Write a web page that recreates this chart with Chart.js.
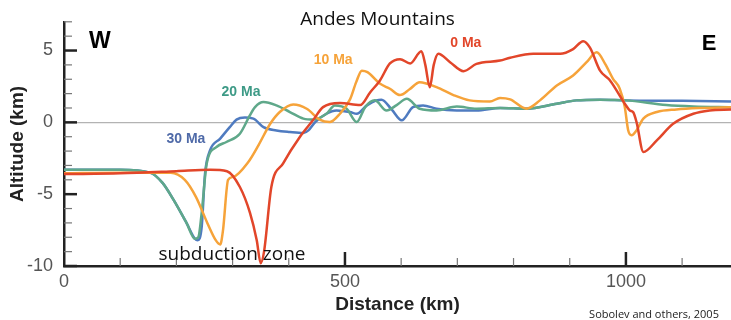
<!DOCTYPE html>
<html lang="en">
<head>
<meta charset="UTF-8">
<script src="https://cdn.jsdelivr.net/npm/chart.js"></script>
<title>Andes Mountains</title>
<style>
  body { margin: 0; background: #fff; }
</style>
</head>
<body>
<canvas id="grafico" width="731" height="320"></canvas>
<script>
// perfiles de altitud (km) contra distancia (km)
const dist30 = [0, 100, 153, 175, 195, 218, 233, 238, 245, 251, 260, 278, 295, 307, 322, 337, 355, 378, 402, 426, 435, 447, 467, 485, 509, 521, 539, 556, 565, 583, 601, 621, 639, 663, 699, 734, 776, 823, 877, 912, 954, 1000, 1100, 1187];
const alt30 = [-3.3, -3.3, -3.5, -4.2, -5.4, -7.0, -8.1, -8.2, -7.3, -3.56, -1.94, -1.13, -0.33, 0.19, 0.33, 0.26, -0.33, -0.56, -0.67, -0.74, -0.56, 0.02, 0.6, 0.83, 0.72, 0.6, 1.18, 1.53, 1.58, 0.9, 0.14, 1.06, 1.18, 0.95, 0.83, 0.83, 1.0, 0.95, 1.3, 1.53, 1.58, 1.53, 1.5, 1.45];

const dist20 = [0, 100, 153, 175, 195, 218, 233, 239, 245, 254, 272, 289, 313, 331, 340, 355, 378, 402, 426, 444, 467, 482, 503, 521, 536, 553, 574, 592, 610, 633, 663, 699, 734, 776, 823, 877, 912, 954, 1000, 1072, 1120, 1187];
const alt20 = [-3.3, -3.3, -3.5, -4.2, -5.4, -7.0, -8.1, -8.0, -6.3, -2.87, -1.7, -1.37, -0.79, 0.5, 1.06, 1.41, 1.18, 0.72, 0.26, 0.19, 0.6, 1.18, 0.95, 0.02, 1.06, 1.53, 0.83, 1.2, 1.64, 0.95, 0.83, 1.1, 0.95, 1.0, 0.95, 1.3, 1.53, 1.58, 1.53, 1.2, 1.1, 1.05];

const dist10 = [0, 100, 190, 215, 235, 255, 270, 278, 283, 292, 301, 328, 346, 367, 384, 408, 432, 455, 473, 491, 509, 520, 530, 540, 562, 580, 598, 615, 633, 663, 693, 722, 758, 776, 794, 823, 847, 877, 906, 930, 948, 963, 977, 989, 998, 1004, 1010, 1019, 1031, 1055, 1090, 1132, 1187];
const alt10 = [-3.55, -3.5, -3.5, -4.0, -5.2, -7.0, -8.2, -8.5, -7.5, -4.0, -3.8, -2.76, -1.6, -0.1, 0.72, 1.25, 0.95, 0.19, 0.02, 0.6, 1.6, 2.8, 3.6, 3.5, 2.7, 2.34, 1.9, 2.3, 2.8, 2.45, 1.9, 1.53, 1.45, 1.7, 1.6, 0.95, 1.53, 2.57, 3.26, 4.19, 4.88, 4.07, 3.03, 2.34, 1.06, -0.55, -0.9, -0.55, 0.26, 0.72, 0.9, 1.0, 1.06];

const dist0 = [0, 100, 200, 260, 290, 313, 331, 343, 350, 356, 369, 390, 420, 443, 461, 491, 527, 545, 562, 580, 598, 616, 636, 643, 651, 658, 666, 687, 711, 734, 776, 794, 835, 883, 906, 924, 936, 954, 972, 998, 1007, 1013, 1019, 1031, 1055, 1084, 1120, 1149, 1187];
const alt0 = [-3.6, -3.55, -3.4, -3.3, -3.4, -4.5, -6.3, -8.2, -9.8, -9.0, -4.5, -2.85, -1.0, 0.14, 1.06, 1.34, 1.2, 2.1, 2.9, 4.1, 4.4, 4.1, 4.95, 4.0, 2.45, 4.0, 4.77, 4.19, 3.56, 4.07, 4.3, 4.5, 4.77, 4.77, 5.1, 5.65, 5.2, 3.6, 2.9, 1.3, 0.83, 0.7, 0, -2.06, -1.25, -0.1, 0.6, 0.83, 0.9];

const edades = ['30 Ma', '20 Ma', '10 Ma', '0 Ma'];
const colores = ['#4f7bc0', '#5fa88a', '#f6a33a', '#e2462a'];
const xTicks = [0, 500, 1000];
const yTicks = [-10, -5, 0, 5];

const toPoints = (xs, ys) => xs.map((v, i) => ({ x: v, y: ys[i] }));
const series = [toPoints(dist30, alt30), toPoints(dist20, alt20), toPoints(dist10, alt10), toPoints(dist0, alt0)];

// textos sobre el grafico (posicion en km / km de altitud)
const notas = [
  { t: 'W', x: 64, y: 5.59, font: 'bold 23px "Liberation Sans"', c: '#000' },
  { t: 'E', x: 1148, y: 5.49, font: 'bold 22px "Liberation Sans"', c: '#000' },
  { t: 'Andes Mountains', x: 558, y: 7.15, font: '19px "Open Sans"', c: '#111' },
  { t: '0 Ma', x: 715, y: 5.49, font: 'bold 14px "Liberation Sans"', c: '#e2462a' },
  { t: '10 Ma', x: 479, y: 4.3, font: 'bold 14px "Liberation Sans"', c: '#f6a33a' },
  { t: '20 Ma', x: 315, y: 2.08, font: 'bold 14px "Liberation Sans"', c: '#3d9a86' },
  { t: '30 Ma', x: 217, y: -1.18, font: 'bold 14px "Liberation Sans"', c: '#4f6aa8' },
  { t: 'subduction zone', x: 299, y: -9.24, font: '19px "Open Sans"', c: '#111' },
  { t: 'Sobolev and others, 2005', x: 1050, y: -13.4, font: '11px "Open Sans"', c: '#222' }
];

const extras = {
  id: 'extras',
  afterDraw(chart) {
    const { ctx, scales: { x, y } } = chart;
    const x0 = x.left, y0 = y.bottom;
    ctx.save();
    // ticks hacia adentro
    for (let v = -10; v <= 7; v++) {
      const py = y.getPixelForValue(v);
      const major = v % 5 === 0;
      ctx.strokeStyle = major ? '#222' : '#777';
      ctx.lineWidth = major ? 2.5 : 1.2;
      ctx.beginPath();
      ctx.moveTo(x0, py);
      ctx.lineTo(x0 + (major ? 13 : 8), py);
      ctx.stroke();
    }
    for (let v = 100; v <= 1100; v += 100) {
      const px = x.getPixelForValue(v);
      const major = v % 500 === 0;
      ctx.strokeStyle = major ? '#222' : '#777';
      ctx.lineWidth = major ? 2.5 : 1.2;
      ctx.beginPath();
      ctx.moveTo(px, y0);
      ctx.lineTo(px, y0 - (major ? 14 : 8));
      ctx.stroke();
    }
    ctx.textAlign = 'center';
    ctx.textBaseline = 'middle';
    notas.forEach(n => {
      ctx.font = n.font;
      ctx.fillStyle = n.c;
      ctx.fillText(n.t, x.getPixelForValue(n.x), y.getPixelForValue(n.y));
    });
    ctx.restore();
  }
};

new Chart(document.getElementById('grafico'), {
  type: 'line',
  data: {
    datasets: series.map((d, i) => ({
      label: edades[i],
      data: d,
      borderColor: colores[i],
      borderWidth: 2.5,
      pointRadius: 0,
      cubicInterpolationMode: 'monotone',
      fill: false,
      order: 3 - i
    }))
  },
  options: {
    responsive: false,
    animation: false,
    devicePixelRatio: 1,
    layout: { padding: { top: 21, right: 0, left: 0, bottom: 0 } },
    plugins: { legend: { display: false }, tooltip: { enabled: false } },
    scales: {
      x: {
        type: 'linear',
        min: 0,
        max: 1187,
        afterFit: s => { s.height = 54; },
        afterBuildTicks: s => { s.ticks = xTicks.map(v => ({ value: v })); },
        grid: { drawOnChartArea: false, drawTicks: false },
        border: { display: true, color: '#222', width: 2.5 },
        ticks: { padding: 5, color: '#555', font: { family: 'Liberation Sans', size: 18 }, maxRotation: 0, callback: v => String(v) },
        title: { display: true, text: 'Distance (km)', color: '#222', font: { family: 'Liberation Sans', size: 19, weight: 'bold' }, padding: { top: 0, bottom: 4 } }
      },
      y: {
        min: -10,
        max: 7,
        afterFit: s => { s.width = 64; },
        afterBuildTicks: s => { s.ticks = yTicks.map(v => ({ value: v })); },
        grid: {
          drawTicks: false,
          lineWidth: 1.2,
          color: c => (c.tick && c.tick.value === 0) ? '#b3b3b3' : 'rgba(0,0,0,0)'
        },
        border: { display: true, color: '#222', width: 2.5 },
        ticks: { padding: 11, color: '#555', font: { family: 'Liberation Sans', size: 18 }, callback: v => String(v) },
        title: { display: true, text: 'Altitude (km)', color: '#222', font: { family: 'Liberation Sans', size: 19, weight: 'bold' }, padding: { top: 6, bottom: 0 } }
      }
    }
  },
  plugins: [extras]
});
</script>
</body>
</html>
